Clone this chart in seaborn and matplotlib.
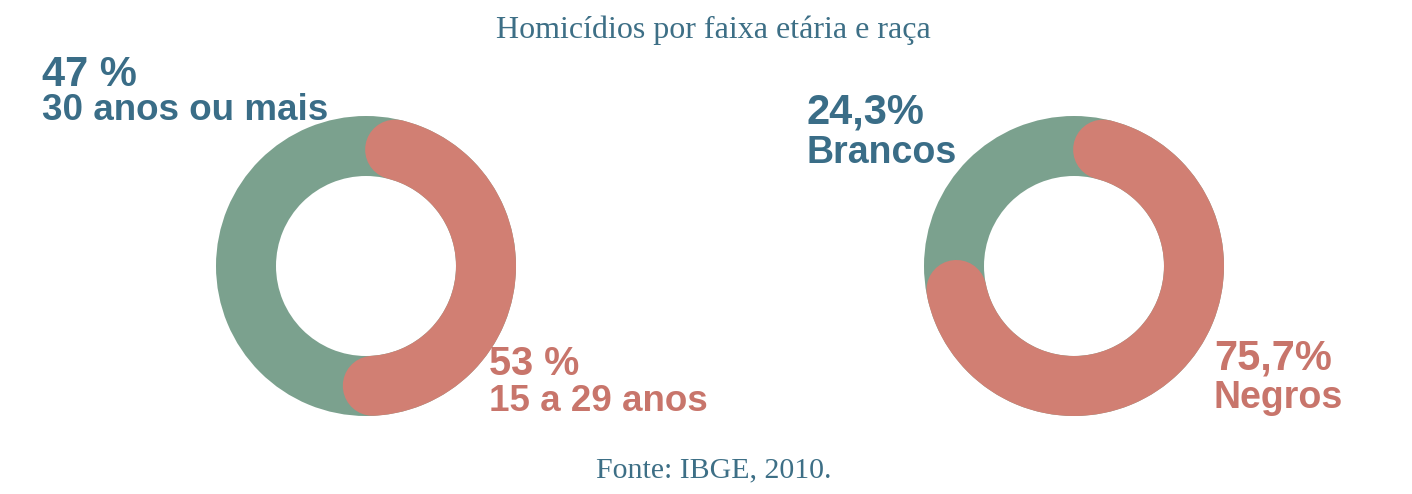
import numpy as np
import matplotlib
matplotlib.use("Agg")
import matplotlib.pyplot as plt
import seaborn as sns

# ---------------- data ----------------
title = "Homicídios por faixa etária e raça"
source = "Fonte: IBGE, 2010."

age_labels = ["15 a 29 anos", "30 anos ou mais"]
age_values = [53, 47]
age_pct_text = ["53 %", "47 %"]

race_labels = ["Negros", "Brancos"]
race_values = [75.7, 24.3]
race_pct_text = ["75,7%", "24,3%"]

# ---------------- style ----------------
sns.set_theme(style="white")
plt.rcParams["font.family"] = ["Liberation Sans", "DejaVu Sans"]

GREEN = "#7ba18e"
RED = "#d17f73"
BLUE_TXT = "#3a6d87"
RED_TXT = "#c8756b"
SERIF_TXT = "#3d6f86"

W, H = 1412, 494
DPI = 100
fig = plt.figure(figsize=(W / DPI, H / DPI), dpi=DPI)
fig.patch.set_facecolor("white")

R_OUT, R_IN = 1.5, 0.9
LIM = 1.6
BOX = 320  # px -> 100 px per data unit


def donut(cx, cy, values):
    ax = fig.add_axes([(cx - BOX / 2) / W, (H - cy - BOX / 2) / H, BOX / W, BOX / H])
    total = sum(values)
    # track ring (second category colour)
    ax.pie([total], colors=[GREEN], radius=R_OUT, startangle=90,
           wedgeprops=dict(width=R_OUT - R_IN, linewidth=0))
    # highlighted share with rounded ends
    share = values[0] / total * 360.0
    r_mid = (R_OUT + R_IN) / 2
    half = (R_OUT - R_IN) / 2
    cap = np.degrees(np.arctan(half / r_mid))
    ang = np.radians(90 - np.linspace(cap, share - cap, 400))
    lw_pt = (R_OUT - R_IN) * (BOX / (2 * LIM)) * 72 / DPI
    sns.lineplot(x=r_mid * np.cos(ang), y=r_mid * np.sin(ang), ax=ax, sort=False,
                 color=RED, linewidth=lw_pt, solid_capstyle="round")
    ax.set_xlim(-LIM, LIM)
    ax.set_ylim(-LIM, LIM)
    ax.set_aspect("equal")
    ax.axis("off")
    return ax


donut(366, 266, age_values)
donut(1074, 266, race_values)


def txt(x, y, s, size, color):
    fig.text(x / W, 1 - y / H, s, fontsize=size, fontweight="bold", color=color,
             ha="left", va="baseline")


# left donut labels
txt(42, 86, age_pct_text[1], 30, BLUE_TXT)
txt(42, 120, age_labels[1], 26.5, BLUE_TXT)
txt(489, 375, age_pct_text[0], 28.5, RED_TXT)
txt(489, 411, age_labels[0], 26.5, RED_TXT)

# right donut labels
txt(807, 123, race_pct_text[1], 30, BLUE_TXT)
txt(807, 163, race_labels[1], 27, BLUE_TXT)
txt(1214, 369, race_pct_text[0], 30, RED_TXT)
txt(1214, 408, race_labels[0], 27, RED_TXT)

fig.text(713 / W, 1 - 38 / H, title, fontsize=23, color=SERIF_TXT,
         family=["Liberation Serif", "DejaVu Serif"], ha="center", va="baseline")
fig.text(714 / W, 1 - 477 / H, source, fontsize=21.5, color=SERIF_TXT,
         family=["Liberation Serif", "DejaVu Serif"], ha="center", va="baseline")

fig.savefig("out.png", dpi=DPI, facecolor="white")
